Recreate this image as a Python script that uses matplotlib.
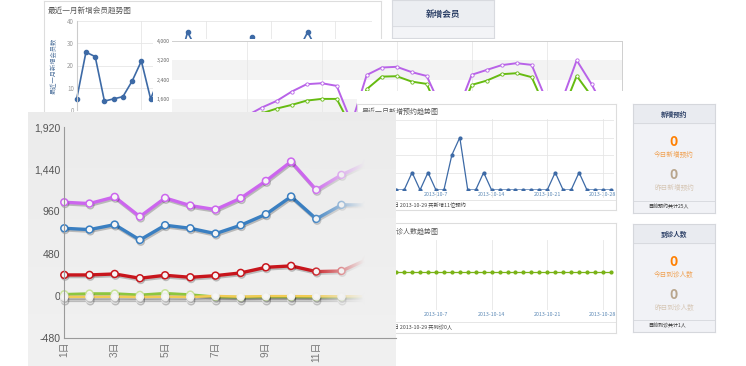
import numpy as np
import matplotlib.pyplot as plt
from matplotlib import patheffects as pe

plt.rcParams['font.family'] = ['Noto Sans CJK SC', 'DejaVu Sans']

# ---- data -------------------------------------------------
# back panel: 最近一月新增会员 (index 0 = 9-29)
member_new = [5, 26, 24, 4, 5, 6, 13, 22, 5, 15, 8, 20, 35, 27, 10, 22, 12, 25,
              27, 33, 26, 12, 18, 24, 27, 35, 27, 15, 18, 10, 12]

# middle panel (purple / green)
mid_purple = [600, 500, 700, 800, 900, 900, 1240, 1517, 1903, 2210, 2250, 2140,
              600, 2590, 2900, 2930, 2710, 2550, 1200, 1000, 2600, 2800, 3000,
              3080, 3010, 1500, 1500, 3200, 2200, 1000, 900]
mid_green = [300, 350, 400, 300, 400, 500, 1000, 1200, 1351, 1530, 1600, 1600,
             400, 2002, 2524, 2540, 2317, 2222, 800, 700, 2180, 2358, 2624,
             2665, 2500, 1100, 1000, 2553, 1700, 800, 700]

# 新增预约 / 到诊人数 (index 0 = 2013-09-30)
booking = [0, 1, 0, 0, 1, 0, 1, 0, 0, 2, 3, 0, 0, 1, 0, 0, 0, 0, 0, 0,
           0, 0, 1, 0, 0, 1, 0, 0, 0, 0]
visits = [0] * 30
date_ticks = [7, 14, 21, 28]
date_labels = ['2013-10-7', '2013-10-14', '2013-10-21', '2013-10-28']

# foreground chart, days 1..13
days = list(range(1, 14))
fg_purple = [1065, 1050, 1126, 901, 1114, 1027, 981, 1111, 1308, 1529, 1206, 1377, 1510]
fg_blue = [768, 753, 810, 635, 803, 768, 707, 803, 928, 1130, 875, 1035, 1035]
fg_red = [236, 236, 247, 198, 232, 209, 228, 259, 323, 339, 274, 281, 410]
fg_green = [15, 23, 23, 8, 27, 11, -14, -18, -14, -14, -16, -16, -16]
fg_yellow = [-14, -14, -12, -16, -12, -16, -4, -12, -6, -6, -8, -8, -8]
fg_gray = [-45] * 13
fg_yticks = [-480, 0, 480, 960, 1440, 1920]
fg_xticks = [1, 3, 5, 7, 9, 11]

# ---- layout helpers (pixel coords) -------------------------
W, H = 746, 366
fig = plt.figure(figsize=(W / 100, H / 100), dpi=100)


def rect(x0, y0, x1, y1):
    return [x0 / W, 1 - y1 / H, (x1 - x0) / W, (y1 - y0) / H]


def box(x0, y0, x1, y1, z, fc='white', ec=None):
    ax = fig.add_axes(rect(x0, y0, x1, y1), zorder=z)
    ax.set_xlim(x0, x1); ax.set_ylim(y1, y0)
    ax.set_xticks([]); ax.set_yticks([])
    ax.set_facecolor(fc)
    for s in ax.spines.values():
        if ec:
            s.set_color(ec); s.set_linewidth(0.8)
        else:
            s.set_visible(False)
    return ax


def plot_area(x0, y0, x1, y1, z):
    ax = fig.add_axes(rect(x0, y0, x1, y1), zorder=z)
    ax.set_facecolor('none')
    for s in ax.spines.values():
        s.set_visible(False)
    ax.tick_params(length=0)
    return ax


# ---- back panel: 新增会员趋势 ---------------------------------
p = box(44, 1, 381, 130, 1, ec='#dddddd')
p.text(48, 11, '最近一月新增会员趋势图', fontsize=5.5, color='#555555', va='center')
p.text(54, 66, '最近一月新增会员数', fontsize=4.5, color='#5577a0', rotation=90,
       ha='center', va='center')
a = plot_area(76.7, 21, 372, 110, 2)
a.set_xlim(0, (372 - 76.7) / 9.24); a.set_ylim(0, 40)
a.set_yticks([0, 10, 20, 30, 40])
a.set_xticks([])
a.tick_params(axis='y', labelsize=4.5, labelcolor='#999999', pad=2)
a.grid(axis='y', color='#e6e6e6', lw=0.6)
for d in [7, 14, 21, 28]:
    a.axvline(d, color='#e6e6e6', lw=0.6)
a.spines['left'].set_visible(True); a.spines['left'].set_color('#cccccc')
a.plot(range(len(member_new)), member_new, color='#3d6aa6', lw=1.2,
       marker='o', ms=3, clip_on=False)

# 新增会员 box
b = box(392, 0, 494, 38, 3, fc='#f3f4f7', ec='#d8dadf')
b.axhspan(0, 26, color='#eceef2')
b.axhline(26, color='#d8dadf', lw=0.6)
b.text(443, 14, '新增会员', fontsize=6.2, fontweight='bold', color='#2b3f66',
       ha='center', va='center')

# ---- middle panel --------------------------------------------
box(153, 39, 624, 140, 4)
m = plot_area(171.7, 41, 621.7, 137.5, 5)
m.set_xlim(0, 30); m.set_ylim(0, 4000)
m.axhspan(2400, 3200, color='#f3f3f3', lw=0)
m.axhspan(800, 1600, color='#f3f3f3', lw=0)
for d in range(5, 31, 5):
    m.axvline(d, color='#e8e8e8', lw=0.6)
m.set_yticks([1600, 2400, 3200, 4000])
m.set_yticklabels([f'{v:,}' for v in [1600, 2400, 3200, 4000]])
m.set_xticks([])
m.tick_params(axis='y', labelsize=3.8, labelcolor='#666666', pad=1.5)
for s in ['top', 'right']:
    m.spines[s].set_visible(True); m.spines[s].set_color('#cfcfcf'); m.spines[s].set_linewidth(0.7)
mx = range(len(mid_purple))
m.plot(mx, mid_green, color='#66bb11', lw=1.4, marker='o', ms=2.4,
       mfc='white', mec='#66bb11', mew=0.6)
m.plot(mx, mid_purple, color='#b862e8', lw=1.4, marker='o', ms=2.4,
       mfc='white', mec='#b862e8', mew=0.6)

# white cover under the right panels
box(357, 91, 632, 218, 6)

# ---- panel A: 新增预约趋势 -----------------------------------
pa = box(357, 104, 616, 210, 7, ec='#dddddd')
pa.text(362, 112, '最近一月新增预约趋势图', fontsize=5, color='#555555', va='center')
pa.axhline(200, color='#e2e2e2', lw=0.6)
pa.text(383, 206, '截止日 2013-10-29 共新增11位预约', fontsize=3.8, color='#444444', va='center')
aa = plot_area(380.3, 120, 614, 190, 8)
aa.set_xlim(0, (614 - 380.3) / 7.95); aa.set_ylim(0, 4)
aa.set_yticks([]); aa.set_xticks(date_ticks); aa.set_xticklabels(date_labels)
aa.tick_params(axis='x', labelsize=3.8, labelcolor='#5b88b5', pad=1.2)
for v in range(5):
    aa.axhline(v, color='#e6e6e6', lw=0.6)
for d in date_ticks:
    aa.axvline(d, ymin=-0.1, ymax=1.02, color='#e6e6e6', lw=0.6, clip_on=False)
aa.plot(range(len(booking)), booking, color='#3d6aa6', lw=0.9, marker='o', ms=2)

# ---- panel B: 到诊人数趋势 -----------------------------------
pb = box(357, 223, 616, 333, 9, ec='#dddddd')
pb.text(362, 232, '最近一月到诊人数趋势图', fontsize=5, color='#555555', va='center')
pb.axhline(322, color='#e2e2e2', lw=0.6)
pb.text(383, 327, '截止日 2013-10-29 共到诊0人', fontsize=3.8, color='#444444', va='center')
ab = plot_area(380.3, 240, 614, 310, 10)
ab.set_xlim(0, (614 - 380.3) / 7.95); ab.set_ylim(-1.1, 0.9)
ab.set_yticks([]); ab.set_xticks(date_ticks); ab.set_xticklabels(date_labels)
ab.tick_params(axis='x', labelsize=3.8, labelcolor='#5b88b5', pad=1.5)
for d in date_ticks:
    ab.axvline(d, color='#e6e6e6', lw=0.6)
ab.plot(range(len(visits)), visits, color='#7ab317', lw=0.9, marker='o', ms=2)

# ---- right summary boxes ------------------------------------
for (y0, y1, head, today, yest, foot) in [
        (104, 213, '新增预约', '今日新增预约', '昨日新增预约', '目前预约共计25人'),
        (224, 332, '到诊人数', '今日到诊人数', '昨日到诊人数', '目前到诊共计1人')]:
    s = box(633, y0, 715, y1, 11, fc='#f1f2f6', ec='#d5d7dc')
    s.axhspan(y0, y0 + 19, color='#e9ebf0')
    s.axhline(y0 + 19, color='#d5d7dc', lw=0.6)
    s.text(674, y0 + 10, head, fontsize=4.8, fontweight='bold', color='#2b3f66',
           ha='center', va='center')
    s.text(674, y0 + 38, '0', fontsize=10, fontweight='bold', color='#ff7f00',
           ha='center', va='center')
    s.text(674, y0 + 51, today, fontsize=4.8, color='#f0a050', ha='center', va='center')
    s.text(674, y0 + 71, '0', fontsize=10, fontweight='bold', color='#b8a58c',
           ha='center', va='center')
    s.text(674, y0 + 84, yest, fontsize=4.8, color='#d6c6b4', ha='center', va='center')
    s.axhline(y1 - 12, color='#d5d7dc', lw=0.6)
    s.text(648, y1 - 6, foot, fontsize=3.6, color='#333333', va='center')

# ---- foreground chart ---------------------------------------
fg = box(28, 112, 396, 366, 20, fc='#eeeeee')
g = np.linspace(0, 1, 64)[:, None]
top, bot = np.array([0.925, 0.925, 0.925]), np.array([0.945, 0.945, 0.945])
grad = (top * (1 - g) + bot * g)[:, None, :].repeat(2, axis=1)
fg.imshow(grad, extent=(28, 396, 366, 112), aspect='auto', zorder=0)
fg.set_xlim(28, 396); fg.set_ylim(366, 112)

c = plot_area(64.3, 127.3, 396, 337.7, 21)
c.set_xlim(1, 1 + (396 - 64.3) / 25.2); c.set_ylim(-480, 1920)
c.set_yticks(fg_yticks)
c.set_yticklabels([f'{v:,}' for v in fg_yticks], family=['Liberation Sans', 'DejaVu Sans'])
c.set_xticks(fg_xticks)
c.set_xticklabels([f'{d}日' for d in fg_xticks], rotation=90,
                  family=['Liberation Sans', 'Noto Sans CJK SC'])
c.tick_params(axis='y', labelsize=7.6, labelcolor='#555555', pad=3)
c.tick_params(axis='x', labelsize=7.2, labelcolor='#777777', pad=3)
for s in ['left', 'bottom']:
    c.spines[s].set_visible(True); c.spines[s].set_color('#9a9a9a'); c.spines[s].set_linewidth(0.8)

shadow = [pe.SimpleLineShadow(offset=(0.6, -1.2), shadow_color='k', alpha=0.22), pe.Normal()]
for vals, col, mcol, lw in [(fg_gray, '#c8c8c8', '#dddddd', 1.6),
                            (fg_green, '#8cc63f', '#c8e39a', 2.0),
                            (fg_yellow, '#f2cc55', '#eeeeee', 1.8),
                            (fg_red, '#c8161d', '#c8161d', 2.4),
                            (fg_blue, '#3a7fc1', '#3a7fc1', 2.4),
                            (fg_purple, '#cc66ee', '#cc66ee', 2.4)]:
    c.plot(days, vals, color=col, lw=lw, marker='o', ms=5, mfc='#f6f6f6',
           mec=mcol, mew=1.1, path_effects=shadow, clip_on=False)

# fade-out of the lines on the right
ov = fig.add_axes(rect(300, 112, 396, 336), zorder=22)
ov.axis('off')
xs = np.linspace(300, 396, 200)
alpha = np.clip((xs - 308) / (364 - 308), 0, 1) ** 1.1
ys = np.linspace(0, 1, 40)[:, None]
base = 0.925 * (1 - ys * 0.88) + 0.945 * ys * 0.88
rgba = np.zeros((40, 200, 4))
rgba[..., 0] = base; rgba[..., 1] = base; rgba[..., 2] = base
rgba[..., 3] = alpha[None, :]
ov.imshow(rgba, extent=(0, 1, 0, 1), aspect='auto')
ov.set_xlim(0, 1); ov.set_ylim(0, 1)

fig.savefig('out.png', dpi=100)
